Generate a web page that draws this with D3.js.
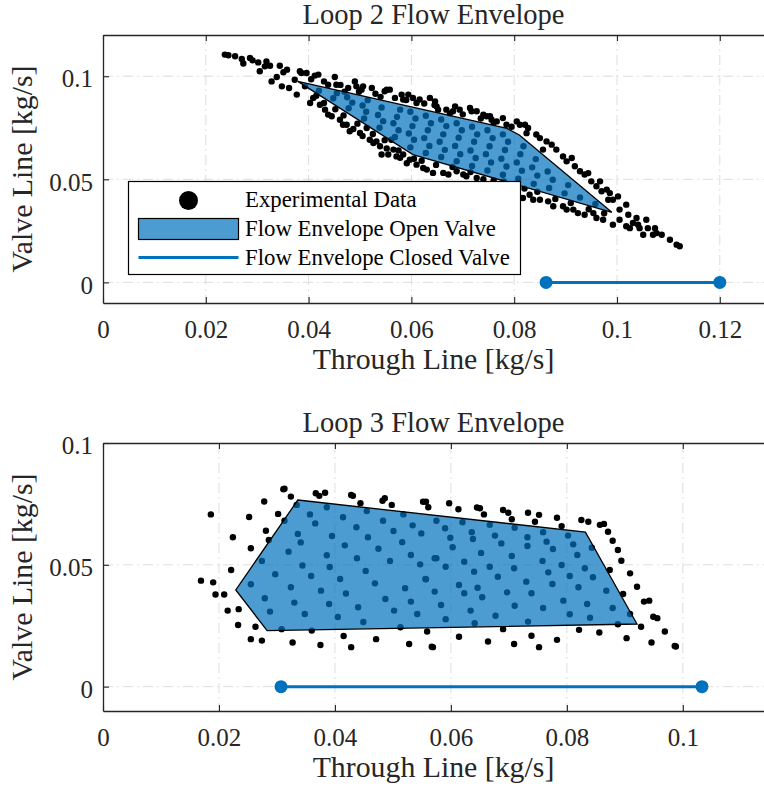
<!DOCTYPE html>
<html>
<head>
<meta charset="utf-8">
<script src="https://cdn.jsdelivr.net/npm/d3@7"></script>
<style>
  body { margin: 0; background: #fff; }
  svg { display: block; }
  svg text { font-family: "Liberation Serif", "Tinos", "Times New Roman", Times, serif; fill: #262626; }
</style>
</head>
<body>
<svg id="chart" width="764" height="788"></svg>
<script>
// ---- Loop 2: measured operating points [through, valve] in kg/s ----
const loop2Points = [
  [0.0237,0.1105],[0.0244,0.1102],[0.0257,0.1097],[0.0270,0.1084],[0.0273,0.1062],[0.0286,0.1089],
  [0.0291,0.1077],[0.0302,0.1067],[0.0305,0.1024],[0.0315,0.1048],[0.0318,0.1072],[0.0325,0.1051],
  [0.0328,0.0975],[0.0338,0.0996],[0.0344,0.1051],[0.0348,0.0951],[0.0351,0.1019],[0.0358,0.1032],
  [0.0362,0.0943],[0.0373,0.0983],[0.0377,0.0911],[0.0383,0.1024],[0.0386,0.1016],[0.0393,0.0951],
  [0.0396,0.1016],[0.0403,0.0870],[0.0409,0.0895],[0.0412,0.1003],[0.0419,0.1008],[0.0422,0.0862],
  [0.0432,0.0838],[0.0438,0.0959],[0.0438,0.0814],[0.0445,0.0806],[0.0451,0.0996],[0.0454,0.0959],
  [0.0461,0.0789],[0.0467,0.0765],[0.0474,0.0765],[0.0477,0.0943],[0.0480,0.0733],[0.0487,0.0744],
  [0.0490,0.0975],[0.0493,0.0951],[0.0500,0.0725],[0.0503,0.0935],[0.0506,0.0951],[0.0513,0.0749],
  [0.0519,0.0692],[0.0523,0.0943],[0.0526,0.0676],[0.0532,0.0684],[0.0539,0.0660],[0.0542,0.0620],
  [0.0548,0.0927],[0.0552,0.0935],[0.0555,0.0620],[0.0558,0.0935],[0.0561,0.0692],[0.0565,0.0644],
  [0.0571,0.0611],[0.0578,0.0604],[0.0581,0.0911],[0.0584,0.0887],[0.0584,0.0620],[0.0591,0.0578],
  [0.0594,0.0911],[0.0597,0.0595],[0.0603,0.0895],[0.0610,0.0571],[0.0616,0.0887],[0.0620,0.0590],
  [0.0623,0.0555],[0.0630,0.0547],[0.0636,0.0895],[0.0642,0.0531],[0.0646,0.0878],[0.0649,0.0854],
  [0.0652,0.0838],[0.0662,0.0531],[0.0668,0.0838],[0.0672,0.0523],[0.0681,0.0830],[0.0685,0.0854],
  [0.0688,0.0539],[0.0694,0.0838],[0.0701,0.0523],[0.0707,0.0515],[0.0714,0.0846],[0.0717,0.0830],
  [0.0727,0.0830],[0.0727,0.0506],[0.0740,0.0814],[0.0740,0.0500],[0.0746,0.0806],[0.0753,0.0806],
  [0.0756,0.0789],[0.0760,0.0495],[0.0766,0.0781],[0.0778,0.0797],[0.0780,0.0490],[0.0785,0.0765],
  [0.0795,0.0470],[0.0805,0.0781],[0.0805,0.0433],[0.0811,0.0765],[0.0817,0.0409],[0.0821,0.0765],
  [0.0824,0.0724],[0.0827,0.0749],[0.0830,0.0425],[0.0837,0.0401],[0.0843,0.0717],[0.0850,0.0700],
  [0.0850,0.0401],[0.0856,0.0644],[0.0863,0.0684],[0.0866,0.0393],[0.0873,0.0668],[0.0876,0.0369],
  [0.0882,0.0644],[0.0895,0.0611],[0.0895,0.0369],[0.0902,0.0587],[0.0902,0.0353],[0.0912,0.0603],
  [0.0915,0.0353],[0.0918,0.0563],[0.0924,0.0336],[0.0928,0.0539],[0.0937,0.0523],[0.0937,0.0328],
  [0.0944,0.0530],[0.0950,0.0490],[0.0954,0.0336],[0.0960,0.0466],[0.0960,0.0312],[0.0967,0.0490],
  [0.0970,0.0442],[0.0973,0.0304],[0.0980,0.0450],[0.0983,0.0401],[0.0986,0.0433],[0.0992,0.0401],
  [0.0992,0.0280],[0.1002,0.0417],[0.1005,0.0353],[0.1005,0.0304],[0.1018,0.0377],[0.1018,0.0272],
  [0.1022,0.0328],[0.1025,0.0263],[0.1031,0.0288],[0.1038,0.0312],[0.1041,0.0280],[0.1044,0.0263],
  [0.1051,0.0231],[0.1057,0.0304],[0.1060,0.0263],[0.1070,0.0231],[0.1074,0.0263],[0.1077,0.0239],
  [0.1087,0.0231],[0.1103,0.0207],[0.1116,0.0183],[0.1122,0.0175],
  [0.0405,0.0985],[0.0430,0.0975],[0.0462,0.0958],[0.0470,0.0925],[0.0498,0.0925],[0.0530,0.0915],
  [0.0540,0.0900],[0.0568,0.0895],[0.0590,0.0885],[0.0610,0.0870],[0.0625,0.0868],[0.0645,0.0860],
  [0.0675,0.0820],[0.0700,0.0815],[0.0735,0.0795],[0.0760,0.0775],[0.0795,0.0755],
  [0.0415,0.0905],[0.0430,0.0870],[0.0452,0.0840],[0.0468,0.0810],[0.0495,0.0770],[0.0505,0.0710],
  [0.0525,0.0720],[0.0548,0.0690],[0.0552,0.0650],[0.0575,0.0640],[0.0605,0.0600],[0.0648,0.0570],
  [0.0680,0.0560],[0.0715,0.0535],[0.0820,0.0455],[0.0845,0.0440],[0.0880,0.0405],[0.0910,0.0385],
  [0.0945,0.0355],[0.0975,0.0335],
  // points inside the open-valve envelope
  [0.0420,0.0930],[0.0448,0.0893],[0.0455,0.0918],[0.0478,0.0845],[0.0485,0.0872],[0.0475,0.0898],
  [0.0508,0.0795],[0.0512,0.0828],[0.0505,0.0858],[0.0515,0.0884],[0.0538,0.0750],[0.0545,0.0782],
  [0.0535,0.0812],[0.0542,0.0848],[0.0568,0.0705],[0.0575,0.0738],[0.0565,0.0772],[0.0572,0.0803],
  [0.0578,0.0838],[0.0598,0.0655],[0.0605,0.0692],[0.0595,0.0722],[0.0602,0.0758],[0.0608,0.0795],
  [0.0598,0.0828],[0.0628,0.0628],[0.0635,0.0662],[0.0625,0.0700],[0.0632,0.0738],[0.0638,0.0772],
  [0.0628,0.0808],[0.0658,0.0608],[0.0665,0.0643],[0.0655,0.0682],[0.0662,0.0718],[0.0668,0.0758],
  [0.0658,0.0790],[0.0688,0.0588],[0.0695,0.0622],[0.0685,0.0662],[0.0692,0.0702],[0.0698,0.0738],
  [0.0688,0.0772],[0.0718,0.0565],[0.0725,0.0603],[0.0715,0.0640],[0.0722,0.0682],[0.0728,0.0718],
  [0.0718,0.0755],[0.0748,0.0543],[0.0755,0.0582],[0.0745,0.0622],[0.0752,0.0660],[0.0758,0.0700],
  [0.0748,0.0738],[0.0778,0.0522],[0.0785,0.0562],[0.0775,0.0600],[0.0782,0.0642],[0.0788,0.0682],
  [0.0778,0.0718],[0.0808,0.0503],[0.0815,0.0542],[0.0805,0.0582],[0.0812,0.0622],[0.0818,0.0660],
  [0.0838,0.0478],[0.0845,0.0518],[0.0835,0.0558],[0.0842,0.0598],[0.0868,0.0458],[0.0875,0.0498],
  [0.0865,0.0538],[0.0898,0.0432],[0.0905,0.0472],[0.0928,0.0412],[0.0958,0.0380]
];
// Open-valve envelope (convex hull) vertices
const loop2Envelope = [[0.0379,0.0975],[0.0786,0.0747],[0.0810,0.0715],[0.0990,0.0340],[0.0603,0.0620]];
// Closed-valve operating range (valve flow = 0)
const loop2Closed = [[0.0862,0],[0.1200,0]];

// ---- Loop 3 ----
const loop3Points = [
  [0.0186,0.0707],[0.0252,0.0696],[0.0278,0.0760],[0.0302,0.0709],[0.0311,0.0810],[0.0313,0.0812],
  [0.0324,0.0780],[0.0281,0.0640],[0.0286,0.0602],[0.0224,0.0613],[0.0255,0.0568],[0.0221,0.0479],
  [0.0169,0.0435],[0.0190,0.0428],[0.0194,0.0378],[0.0209,0.0378],[0.0215,0.0312],[0.0234,0.0318],
  [0.0233,0.0253],[0.0263,0.0246],[0.0255,0.0195],[0.0274,0.0189],[0.0327,0.0181],[0.0375,0.0171],
  [0.0415,0.0208],[0.0428,0.0162],[0.0471,0.0195],[0.0528,0.0175],[0.0559,0.0226],[0.0567,0.0164],
  [0.0367,0.0794],[0.0373,0.0783],[0.0383,0.0796],[0.0428,0.0787],[0.0431,0.0783],[0.0444,0.0753],
  [0.0482,0.0763],[0.0486,0.0773],[0.0498,0.0746],[0.0552,0.0759],[0.0557,0.0759],[0.0561,0.0736],
  [0.0597,0.0753],[0.0613,0.0728],[0.0645,0.0735],[0.0650,0.0732],[0.0657,0.0707],[0.0690,0.0725],
  [0.0699,0.0714],[0.0705,0.0687],[0.0733,0.0714],[0.0745,0.0677],[0.0752,0.0705],[0.0783,0.0693],
  [0.0791,0.0659],[0.0825,0.0684],[0.0837,0.0677],[0.0857,0.0664],[0.0864,0.0668],[0.0871,0.0636],
  [0.0879,0.0599],[0.0888,0.0561],[0.0894,0.0517],[0.0874,0.0479],[0.0909,0.0465],[0.0921,0.0410],
  [0.0897,0.0380],[0.0933,0.0349],[0.0942,0.0353],[0.0949,0.0287],[0.0956,0.0281],[0.0969,0.0226],
  [0.0986,0.0167],[0.0988,0.0165],[0.0928,0.0246],[0.0903,0.0199],[0.0946,0.0181],[0.0888,0.0256],
  [0.0856,0.0222],[0.0821,0.0233],[0.0783,0.0192],[0.0752,0.0162],[0.0739,0.0209],[0.0709,0.0175],
  [0.0690,0.0236],[0.0664,0.0185],[0.0614,0.0205],[0.0569,0.0162],
  // points inside the open-valve envelope
  [0.0334,0.0746],[0.0357,0.0707],[0.0366,0.0670],[0.0386,0.0736],[0.0414,0.0695],[0.0455,0.0721],
  [0.0483,0.0681],[0.0501,0.0639],[0.0518,0.0707],[0.0534,0.0662],[0.0549,0.0629],[0.0575,0.0681],
  [0.0313,0.0681],[0.0336,0.0627],[0.0341,0.0592],[0.0320,0.0554],[0.0274,0.0516],[0.0297,0.0461],
  [0.0344,0.0497],[0.0359,0.0454],[0.0386,0.0539],[0.0391,0.0491],[0.0395,0.0618],[0.0417,0.0580],
  [0.0437,0.0654],[0.0457,0.0613],[0.0475,0.0566],[0.0438,0.0527],[0.0453,0.0475],[0.0469,0.0424],
  [0.0495,0.0516],[0.0516,0.0593],[0.0531,0.0540],[0.0547,0.0502],[0.0572,0.0527],[0.0255,0.0420],
  [0.0279,0.0363],[0.0288,0.0308],[0.0324,0.0408],[0.0330,0.0345],[0.0348,0.0298],[0.0376,0.0394],
  [0.0390,0.0339],[0.0409,0.0442],[0.0419,0.0382],[0.0440,0.0326],[0.0405,0.0286],[0.0449,0.0265],
  [0.0487,0.0360],[0.0502,0.0312],[0.0521,0.0404],[0.0531,0.0349],[0.0542,0.0298],[0.0557,0.0441],
  [0.0513,0.0244],[0.0308,0.0236],[0.0360,0.0230],
  [0.0590,0.0650],[0.0599,0.0611],[0.0603,0.0572],[0.0620,0.0675],[0.0636,0.0634],[0.0638,0.0606],
  [0.0667,0.0664],[0.0676,0.0620],[0.0687,0.0588],[0.0710,0.0652],[0.0732,0.0613],[0.0732,0.0577],
  [0.0759,0.0634],[0.0765,0.0595],[0.0776,0.0565],[0.0802,0.0620],[0.0811,0.0584],[0.0818,0.0540],
  [0.0843,0.0570],[0.0575,0.0527],[0.0591,0.0492],[0.0556,0.0442],[0.0572,0.0390],[0.0583,0.0335],
  [0.0591,0.0277],[0.0623,0.0513],[0.0640,0.0472],[0.0652,0.0549],[0.0667,0.0492],[0.0681,0.0451],
  [0.0705,0.0536],[0.0709,0.0486],[0.0730,0.0431],[0.0739,0.0383],[0.0758,0.0516],[0.0768,0.0469],
  [0.0775,0.0421],[0.0791,0.0499],[0.0805,0.0454],[0.0820,0.0408],[0.0831,0.0486],[0.0845,0.0449],
  [0.0868,0.0394],[0.0879,0.0323],[0.0909,0.0298],[0.0835,0.0339],[0.0840,0.0283],[0.0805,0.0297],
  [0.0794,0.0353],[0.0759,0.0323],[0.0733,0.0267],[0.0710,0.0332],[0.0697,0.0387],[0.0677,0.0291],
  [0.0654,0.0367],[0.0646,0.0406],[0.0634,0.0312],[0.0641,0.0260],[0.0623,0.0383],[0.0614,0.0417]
];
const loop3Envelope = [[0.0336,0.0766],[0.0832,0.0634],[0.0921,0.0257],[0.0283,0.0230],[0.0229,0.0397]];
const loop3Closed = [[0.0307,0],[0.1033,0]];

// Axis ticks
const loop2XTicks = [0, 0.02, 0.04, 0.06, 0.08, 0.1, 0.12];
const loop3XTicks = [0, 0.02, 0.04, 0.06, 0.08, 0.1];
const yTicks = [0, 0.05, 0.1];

const legendLabels = ["Experimental Data", "Flow Envelope Open Valve", "Flow Envelope Closed Valve"];

const BLUE = "#0072BD";
const INK = "#262626";
const FONT = '"Liberation Serif", "Tinos", "Times New Roman", Times, serif';
const svg = d3.select("#chart");

function drawPanel(cfg) {
  const left = 103, right = 764;
  const x = d3.scaleLinear().domain(cfg.xDomain).range([left, right]);
  const y = d3.scaleLinear().domain(cfg.yDomain).range([cfg.bottom, cfg.top]);
  const g = svg.append("g").style("font-family", FONT);

  const clipId = "clip-" + cfg.id;
  g.append("clipPath").attr("id", clipId)
    .append("rect").attr("x", left).attr("y", cfg.top)
    .attr("width", right - left).attr("height", cfg.bottom - cfg.top);

  // dash-dot grid
  const grid = g.append("g").attr("stroke", "#dedede").attr("stroke-width", 1)
    .attr("stroke-dasharray", "10,4,2,4");
  grid.selectAll(".gx").data(cfg.xTicks.filter(d => d > 0)).join("line")
    .attr("x1", d => x(d)).attr("x2", d => x(d))
    .attr("y1", cfg.top).attr("y2", cfg.bottom);
  grid.selectAll(".gy").data(yTicks.filter(d => y(d) > cfg.top + 1)).join("line")
    .attr("x1", left).attr("x2", right)
    .attr("y1", d => y(d)).attr("y2", d => y(d));

  const plot = g.append("g").attr("clip-path", `url(#${clipId})`);

  // experimental data
  plot.append("g").selectAll("circle").data(cfg.points).join("circle")
    .attr("cx", d => x(d[0])).attr("cy", d => y(d[1])).attr("r", 3.2)
    .attr("fill", "#000");

  // open-valve envelope
  plot.append("path")
    .attr("d", d3.line().x(d => x(d[0])).y(d => y(d[1]))(cfg.envelope) + "Z")
    .attr("fill", BLUE).attr("fill-opacity", 0.7)
    .attr("stroke", "#000").attr("stroke-width", 1.3).attr("stroke-linejoin", "miter");

  // closed-valve range
  plot.append("path")
    .attr("d", d3.line().x(d => x(d[0])).y(d => y(d[1]))(cfg.closed))
    .attr("stroke", BLUE).attr("stroke-width", 3).attr("fill", "none");
  plot.append("g").selectAll("circle").data(cfg.closed).join("circle")
    .attr("cx", d => x(d[0])).attr("cy", d => y(d[1])).attr("r", 6.5)
    .attr("fill", BLUE);

  // axes
  const fmt = d => d === 0 ? "0" : String(+d.toFixed(3));
  const xAxis = g.append("g").attr("transform", `translate(0,${cfg.bottom})`)
    .call(d3.axisBottom(x).tickValues(cfg.xTicks).tickFormat(fmt).tickSizeInner(-6).tickSizeOuter(0).tickPadding(17));
  const xTop = g.append("g").attr("transform", `translate(0,${cfg.top})`)
    .call(d3.axisTop(x).tickValues(cfg.xTicks).tickFormat("").tickSizeInner(-6).tickSizeOuter(0));
  const yAxis = g.append("g").attr("transform", `translate(${left},0)`)
    .call(d3.axisLeft(y).tickValues(yTicks).tickFormat(fmt).tickSizeInner(-6).tickSizeOuter(0).tickPadding(10));
  [xAxis, xTop, yAxis].forEach(a => {
    a.attr("font-family", FONT).attr("font-size", null);
    a.select(".domain").attr("stroke", INK).attr("stroke-width", 1.3);
    a.selectAll(".tick line").attr("stroke", INK).attr("stroke-width", 1.1);
    a.selectAll(".tick text").attr("fill", INK).style("font-family", FONT).style("font-size", "25px");
  });
  yAxis.selectAll(".tick text").attr("dy", "0.43em");

  // title and axis labels
  g.append("text").attr("x", (left + right) / 2).attr("y", cfg.top - 11)
    .attr("text-anchor", "middle").style("font-size", "28.5px").text(cfg.title);
  g.append("text").attr("x", (left + right) / 2).attr("y", cfg.bottom + 66)
    .attr("text-anchor", "middle").style("font-size", "29.8px").text("Through Line [kg/s]");
  g.append("text")
    .attr("transform", `translate(32,${(cfg.top + cfg.bottom) / 2}) rotate(-90)`)
    .attr("text-anchor", "middle").style("font-size", "29.8px").text("Valve Line [kg/s]");

  return g;
}

const loop2Panel = drawPanel({
  id: "loop2", title: "Loop 2 Flow Envelope", top: 35, bottom: 303,
  xDomain: [0, 0.1286], yDomain: [-0.01, 0.12], xTicks: loop2XTicks,
  points: loop2Points, envelope: loop2Envelope, closed: loop2Closed
});
drawPanel({
  id: "loop3", title: "Loop 3 Flow Envelope", top: 443, bottom: 711,
  xDomain: [0, 0.114], yDomain: [-0.01, 0.1], xTicks: loop3XTicks,
  points: loop3Points, envelope: loop3Envelope, closed: loop3Closed
});

// legend (Loop 2 panel)
const lg = loop2Panel.append("g");
lg.append("rect").attr("x", 128.5).attr("y", 181.5).attr("width", 392).attr("height", 93)
  .attr("fill", "#fff").attr("stroke", "#000").attr("stroke-width", 1.2);
lg.append("circle").attr("cx", 188.5).attr("cy", 200.5).attr("r", 9.5).attr("fill", "#000");
lg.append("rect").attr("x", 138.5).attr("y", 218.5).attr("width", 100).attr("height", 21)
  .attr("fill", BLUE).attr("fill-opacity", 0.7).attr("stroke", "#000").attr("stroke-width", 1.2);
lg.append("line").attr("x1", 138.5).attr("x2", 238.5).attr("y1", 257.5).attr("y2", 257.5)
  .attr("stroke", BLUE).attr("stroke-width", 3);
lg.selectAll("text.lbl").data(legendLabels).join("text")
  .attr("x", 245).attr("y", (d, i) => 207 + i * 29)
  .style("font-size", "22.8px").style("fill", "#000").text(d => d);
</script>
</body>
</html>
